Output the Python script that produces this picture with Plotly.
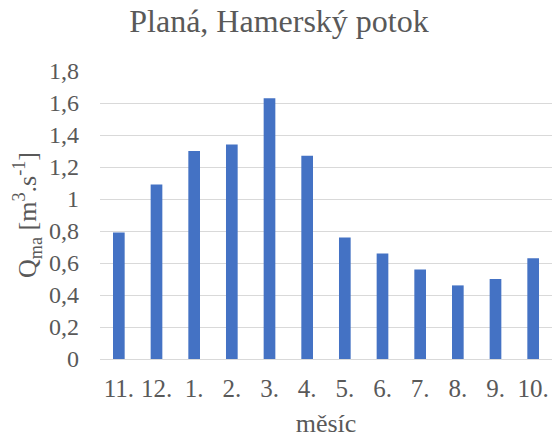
import plotly.graph_objects as go

# Monthly mean discharge, hydrological year order (November to October)
months = ["11.", "12.", "1.", "2.", "3.", "4.", "5.", "6.", "7.", "8.", "9.", "10."]
q_ma = [0.79, 1.09, 1.30, 1.34, 1.63, 1.27, 0.76, 0.66, 0.56, 0.46, 0.50, 0.63]
y_ticks = [0, 0.2, 0.4, 0.6, 0.8, 1.0, 1.2, 1.4, 1.6, 1.8]

font_family = "Liberation Serif"
text_color = "#595959"

fig = go.Figure(
    go.Bar(
        x=months,
        y=q_ma,
        marker=dict(color="#4472C4", line=dict(width=0)),
        width=0.31,
    )
)

fig.update_layout(
    width=558,
    height=441,
    margin=dict(l=100, r=6, t=71, b=82),
    paper_bgcolor="white",
    plot_bgcolor="white",
    separators=", ",
    showlegend=False,
    font=dict(family=font_family, color=text_color, size=24),
    title=dict(
        text="Planá, Hamerský potok",
        x=0.5,
        xanchor="center",
        y=0.952,
        yanchor="middle",
        font=dict(family=font_family, size=32, color=text_color),
    ),
)

fig.update_xaxes(
    type="category",
    showgrid=False,
    showline=True,
    linecolor="#d9d9d9",
    linewidth=1,
    ticks="",
    ticklabelstandoff=7,
    tickfont=dict(family=font_family, size=25, color=text_color),
    title=dict(text="měsíc", font=dict(family=font_family, size=26, color=text_color), standoff=12),
)

fig.update_yaxes(
    range=[0, 1.8],
    tickvals=y_ticks,
    showgrid=True,
    gridcolor="#d9d9d9",
    gridwidth=1,
    zeroline=False,
    showline=False,
    ticks="",
    ticklabelstandoff=20,
    tickfont=dict(family=font_family, size=24, color=text_color),
    title=dict(
        text="Q<sub>ma</sub> [m<sup>3</sup>.s<sup>-1</sup>]",
        font=dict(family=font_family, size=26, color=text_color),
        standoff=4,
    ),
)

fig.write_html("out.html")
